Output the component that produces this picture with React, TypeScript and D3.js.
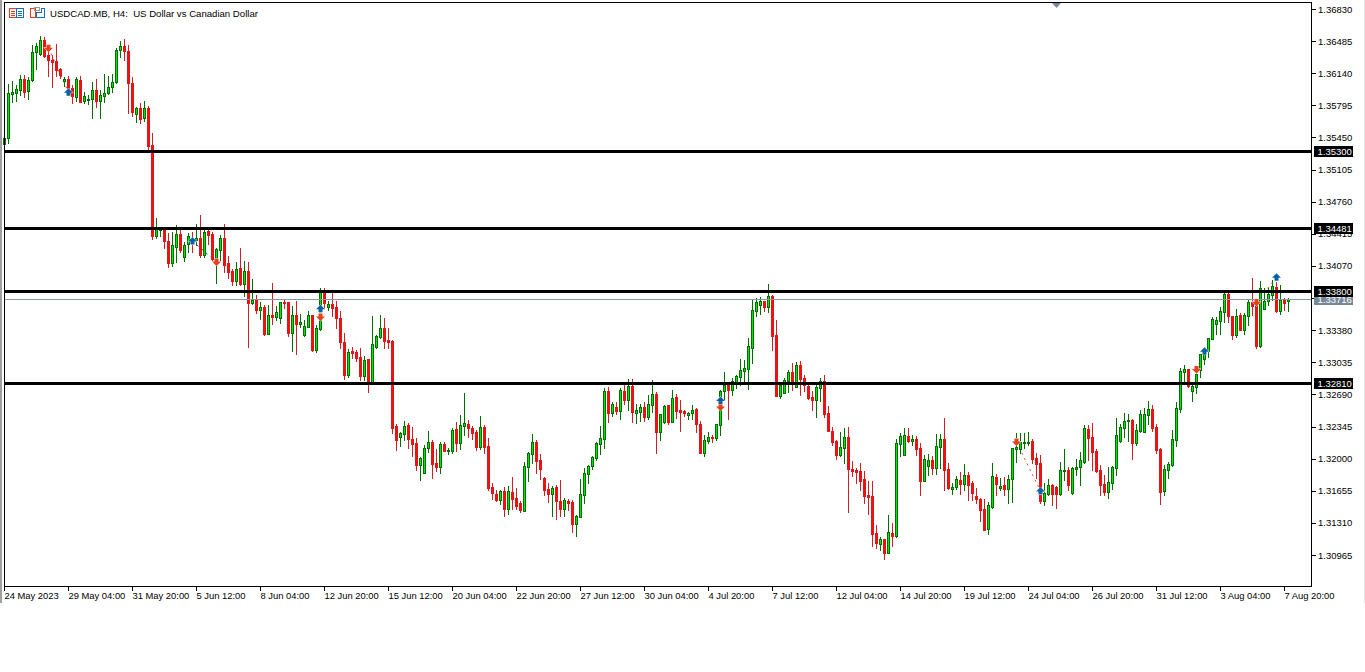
import { useEffect, useRef } from "react";
import * as d3 from "d3";

// prices are stored in points (1.36830 -> 136830)
const opens = [
  135380,135441,135921,135932,135964,136075,135953,136064,136365,136351,136494,136336,136279,136268,136182,136061,
  136075,135978,135889,136064,135839,135860,135860,135957,135839,135900,135925,135989,136043,136386,136429,136376,
  136032,135699,135763,135656,135763,135366,134392,134457,134475,134342,134106,134278,134414,134170,134303,134342,
  134349,134371,134188,134446,134414,134156,134242,134367,134099,134016,133909,134045,133877,134016,133676,133705,
  133598,133630,133343,133540,133522,133515,133680,133680,133351,133540,133447,133329,133419,133540,133168,133390,
  133794,133633,133662,133626,133508,133254,132900,133157,133147,133089,132893,133072,132810,133204,133308,133401,
  133272,133265,132352,132237,132270,132363,132212,132169,131937,131851,132109,132177,131955,131915,132159,132083,
  132083,132320,132173,132356,132373,132330,132288,132126,132341,132137,131697,131622,131557,131654,131461,131643,
  131579,131525,131443,131915,132055,132180,131987,131793,131675,131622,131697,131546,131461,131546,131536,131299,
  131375,131611,131836,131922,132008,132159,132212,132728,132492,132556,132517,132728,132631,132782,132492,132502,
  132556,132449,132577,132696,132288,132395,132577,132395,132663,132524,132513,132467,132492,132535,132373,132062,
  132191,132234,132223,132363,132728,132792,132739,132814,132878,132943,132964,133190,133587,133651,133694,133630,
  133748,133329,132674,132706,132835,132932,132774,133007,132867,132782,132663,132631,132760,132835,132492,132298,
  132191,132041,132116,132234,131890,131879,131869,131783,131611,131600,131203,131085,131138,130988,131203,131171,
  132159,132041,132245,132191,132212,132116,131761,131922,131987,131901,132130,132212,131890,131675,131697,131772,
  131729,131826,131740,131600,131568,131461,131246,131482,131804,131686,131718,131675,131783,132105,132104,132169,
  132172,132186,132004,131957,131546,131621,131717,131700,131621,131868,131879,131635,131889,131911,131965,132319,
  132233,132083,131879,131728,131639,131739,131904,132190,132330,132405,132416,132169,132297,132287,132469,132534,
  132340,132104,131653,131879,131932,132201,132534,132931,132963,132727,132774,132953,133071,133153,133289,133450,
  133479,133576,133769,133533,133328,133540,133382,133533,133683,133683,133210,133608,133694,133758,133844,133586,
  133704,133690,
];
const highs = [
  135448,136025,136057,136018,136121,136121,136096,136444,136462,136540,136526,136415,136336,136454,136193,136104,
  136111,136014,136096,136111,135942,135907,136043,136075,135960,136132,136114,136132,136408,136483,136508,136444,
  136096,135781,135817,135842,135785,135495,134582,134489,134493,134421,134439,134510,134493,134331,134421,134432,
  134521,134618,134457,134464,134439,134260,134403,134521,134178,134034,134113,134263,134124,134113,133931,133759,
  133684,133648,133648,133888,133641,133687,133716,133687,133641,133691,133555,133490,133583,133540,133436,133830,
  133830,133691,133784,133694,133587,133347,133179,133197,133168,133186,133104,133072,133533,133329,133544,133515,
  133404,133272,132370,132291,132406,132381,132341,132219,132023,132148,132298,132202,132105,132177,132184,132119,
  132330,132395,132470,132706,132416,132352,132309,132459,132363,132219,131736,131665,131665,131697,131708,131804,
  131686,131546,131965,132073,132266,132202,132051,131804,131740,131708,131718,131772,131579,131568,131557,131396,
  131783,131901,131933,132030,132180,132352,132760,132771,132610,132610,132760,132792,132857,132857,132588,132588,
  132610,132685,132846,132717,132481,132577,132577,132739,132696,132631,132524,132502,132577,132545,132406,132255,
  132288,132255,132373,132739,132932,132810,132867,132900,133072,133061,133297,133705,133727,133737,133694,133877,
  133759,133490,132792,132867,132953,133029,133039,133050,132900,132792,132728,132792,132867,132900,132567,132341,
  132202,132288,132330,132341,131976,131901,131955,131869,131761,131761,131289,131160,131138,131396,131310,132212,
  132277,132330,132330,132255,132245,132169,132041,132051,132030,132266,132266,132438,131955,131740,131815,131858,
  131944,131858,131761,131686,131579,131568,131536,131955,131836,131793,131804,131826,132116,132273,132272,132280,
  132290,132212,132058,132040,131735,131782,131728,131710,131968,132104,131911,131914,131997,132075,132362,132362,
  132380,132104,131932,131825,131911,131922,132437,132373,132487,132480,132426,132373,132523,132544,132620,132577,
  132373,132115,131932,131965,132308,132609,132974,133006,132963,132791,132988,133124,133196,133293,133518,133525,
  133633,133776,133776,133533,133608,133561,133561,133712,133941,133704,133908,133830,133833,133919,133901,133865,
  133726,133726,
];
const lows = [
  135370,135395,135828,135842,135907,135889,135860,136057,136190,136336,136311,136111,135996,136111,136086,136003,
  135968,135824,135842,135828,135817,135806,135663,135781,135663,135835,135914,135942,136032,136311,136283,135717,
  135685,135620,135602,135631,135330,134360,134374,134396,134267,134063,134074,134117,134224,134127,134224,134224,
  134296,134170,134170,134306,134127,133891,134135,134009,133938,133866,133870,133866,133752,133204,133662,133569,
  133505,133329,133336,133447,133490,133458,133615,133322,133157,133129,133411,133318,133411,133157,133147,133383,
  133615,133598,133530,133401,133193,132857,132882,133082,133050,132846,132846,132721,132803,133193,133297,133190,
  133190,132277,132094,132141,132202,132116,132030,131879,131772,131851,132076,131793,131869,131847,132080,132051,
  132058,132080,132105,132255,132234,132212,132094,132105,132062,131665,131568,131546,131514,131385,131407,131461,
  131461,131428,131443,131761,131955,131847,131783,131611,131536,131385,131353,131385,131385,131450,131214,131171,
  131375,131525,131743,131890,131987,132051,132116,132395,132459,132481,132427,132588,132524,132395,132384,132406,
  132406,132427,132502,132062,132202,132384,132373,132395,132438,132298,132459,132427,132427,132288,132062,132030,
  132169,132180,132202,132255,132631,132427,132681,132760,132792,132803,132749,133029,133533,133555,133587,133576,
  133168,132674,132653,132706,132717,132739,132771,132685,132728,132642,132524,132449,132620,132449,132298,132148,
  131998,132030,131955,131428,131815,131740,131665,131525,131407,131063,131042,131020,130924,130988,131063,131160,
  132030,132041,132180,132148,132041,131611,131761,131826,131836,131836,131901,131665,131675,131622,131675,131622,
  131665,131557,131557,131525,131332,131235,131192,131471,131611,131665,131611,131525,131536,131965,132058,132111,
  132147,131957,131789,131521,131503,131610,131503,131474,131610,131771,131664,131621,131825,131717,131954,131986,
  131879,131857,131610,131610,131578,131675,131825,132183,132233,132190,131997,132147,132287,132287,132373,132294,
  132058,131513,131610,131793,131922,132136,132502,132802,132774,132620,132709,132874,133013,133096,133286,133339,
  133339,133468,133468,133286,133307,133382,133339,133436,133543,133189,133203,133608,133651,133704,133576,133554,
  133597,133586,
];
const closes = [
  135448,135925,135935,135971,136075,135942,136064,136365,136429,136494,136329,136279,136265,136179,136118,136082,
  135978,135892,136075,135835,135892,135864,135957,135839,135903,135925,135989,136043,136386,136429,136376,136032,
  135728,135763,135653,135763,135359,134396,134485,134471,134342,134106,134292,134414,134242,134292,134389,134321,
  134367,134188,134435,134403,134142,134253,134367,134081,134006,133909,134034,133877,134016,133676,133705,133598,
  133626,133336,133540,133522,133573,133680,133669,133351,133540,133447,133465,133422,133540,133168,133401,133794,
  133669,133662,133619,133515,133258,132900,133143,133140,133086,132893,133057,132810,133229,133319,133401,133268,
  133258,132334,132205,132277,132352,132212,132162,131933,132005,132116,132177,131944,131912,132159,132083,132091,
  132309,132169,132363,132381,132330,132277,132130,132341,132123,131686,131632,131557,131654,131461,131654,131568,
  131493,131450,131922,132062,132177,131976,131890,131665,131622,131686,131546,131461,131557,131525,131299,131385,
  131622,131847,131922,132019,132169,132223,132728,132492,132588,132513,132739,132631,132782,132502,132524,132556,
  132449,132588,132696,132288,132481,132567,132395,132653,132513,132502,132492,132488,132524,132373,132062,132202,
  132234,132223,132373,132728,132792,132739,132835,132889,132953,132975,133211,133598,133684,133694,133630,133748,
  133319,132674,132792,132846,132932,132803,133007,132857,132792,132653,132631,132771,132835,132481,132298,132180,
  132041,132126,132234,131890,131869,131858,131761,131600,131589,131192,131095,131138,130988,131214,131171,132169,
  132245,132255,132191,132212,132105,131761,131998,131987,131901,132137,132212,131879,131686,131697,131783,131729,
  131826,131718,131632,131568,131450,131235,131503,131815,131729,131708,131675,131783,132112,132126,132176,132179,
  132179,131997,131947,131546,131635,131717,131621,131617,131879,131879,131717,131900,131911,131986,132330,132222,
  132072,131868,131717,131642,131750,131911,132251,132340,132405,132416,132169,132308,132480,132480,132534,132330,
  132093,131642,131889,131943,132212,132544,132942,132963,132781,132781,132910,133121,133132,133293,133497,133490,
  133583,133769,133533,133328,133533,133382,133543,133683,133640,133210,133830,133694,133769,133855,133586,133704,
  133676,133715,
];

const priceTicks = [
  136830,136485,136140,135795,135450,135105,134760,134415,134070,133725,133380,133035,132690,132345,132000,131655,131310,130965,
];
const timeLabels = [
  "24 May 2023","29 May 04:00","31 May 20:00","5 Jun 12:00","8 Jun 04:00","12 Jun 20:00","15 Jun 12:00",
  "20 Jun 04:00","22 Jun 20:00","27 Jun 12:00","30 Jun 04:00","4 Jul 20:00","7 Jul 12:00","12 Jul 04:00",
  "14 Jul 20:00","19 Jul 12:00","24 Jul 04:00","26 Jul 20:00","31 Jul 12:00","3 Aug 04:00","7 Aug 20:00",
];
const levels = [135300, 134481, 133800, 132810];
const bidPrice = 133716;

// trade arrows
const sellIndex = [11, 53, 79, 179, 253, 298, 313];
const sellPrice = [136415, 134117, 133526, 132560, 132184, 132963, 133683];
const buyIndex = [16, 47, 79, 179, 259, 300, 318];
const buyPrice = [135942, 134342, 133615, 132631, 131657, 133160, 133955];
// [from index, from price, to index, to price, colour]
const tradeLinks: [number, number, number, number, string][] = [
  [11, 136415, 16, 135942, "#e8401c"],
  [47, 134342, 53, 134117, "#0b5fa5"],
  [253, 132184, 259, 131657, "#e8401c"],
  [298, 132963, 300, 133160, "#e8401c"],
  [313, 133683, 318, 133955, "#e8401c"],
];

const W = 1365;
const H = 672;
const left = 4;
const top = 2;
const right = 1311;
const bottom = 586;
const font = "'Liberation Sans', Arial, sans-serif";
const fmt = (p: number) => (p / 100000).toFixed(5);

const App = () => {
  const ref = useRef<SVGSVGElement | null>(null);

  useEffect(() => {
    const svg = d3.select(ref.current);
    svg.selectAll("*").remove();

    const x = d3.scaleLinear().domain([0, 321]).range([4.5, 1288.5]);
    const y = d3.scaleLinear().domain([130965, 136830]).range([555.5, 9.5]);
    const py = (p: number) => Math.round(y(p) - 0.5);

    // window edges
    svg.append("rect").attr("x", 0).attr("y", 0).attr("width", 2).attr("height", 603).attr("fill", "#a0a0a0");
    svg.append("rect").attr("x", 1364).attr("y", 0).attr("width", 1).attr("height", 603).attr("fill", "#e4e4e4");

    // trade links go under the candles
    const plot = svg.append("g").attr("shape-rendering", "crispEdges");
    svg
      .insert("g", "g")
      .selectAll("line")
      .data(tradeLinks)
      .join("line")
      .attr("x1", (d) => x(d[0]))
      .attr("y1", (d) => y(d[1]))
      .attr("x2", (d) => x(d[2]))
      .attr("y2", (d) => y(d[3]))
      .attr("stroke", (d) => d[4])
      .attr("stroke-width", 1)
      .attr("stroke-dasharray", "2,4");

    opens.forEach((open, i) => {
      const close = closes[i];
      const up = close >= open;
      const cx = Math.floor(x(i));
      const bodyTop = py(Math.max(open, close));
      const bodyBottom = py(Math.min(open, close));
      const high = py(highs[i]);
      const low = py(lows[i]);

      plot
        .append("rect")
        .attr("x", cx)
        .attr("y", high)
        .attr("width", 1)
        .attr("height", Math.max(low - high + 1, 1))
        .attr("fill", up ? "#006f00" : "#cc1f26");
      plot
        .append("rect")
        .attr("x", cx - 1)
        .attr("y", bodyTop)
        .attr("width", 3)
        .attr("height", Math.max(bodyBottom - bodyTop + 1, 2))
        .attr("fill", up ? "#006f00" : "#ea1212");
      if (up && bodyBottom - bodyTop > 1) {
        plot
          .append("rect")
          .attr("x", cx)
          .attr("y", bodyTop + 1)
          .attr("width", 1)
          .attr("height", bodyBottom - bodyTop - 1)
          .attr("fill", "#00e600");
      }
    });

    // horizontal levels
    const levelG = svg.append("g").attr("shape-rendering", "crispEdges");
    levelG
      .append("line")
      .attr("x1", left)
      .attr("x2", right)
      .attr("y1", y(bidPrice))
      .attr("y2", y(bidPrice))
      .attr("stroke", "#8a96a3")
      .attr("stroke-width", 1);
    levelG
      .selectAll("rect")
      .data(levels)
      .join("rect")
      .attr("x", left)
      .attr("width", right - left)
      .attr("y", (d) => py(d) - 1)
      .attr("height", 3)
      .attr("fill", "#000");

    // arrows on top of the levels
    const arrow = (cx: number, cy: number, dir: number, color: string) => {
      const d = `M0,${-4 * dir}L4.5,${0.5 * dir}L2,${0.5 * dir}L2,${3.5 * dir}L-2,${3.5 * dir}L-2,${0.5 * dir}L-4.5,${0.5 * dir}Z`;
      svg
        .append("path")
        .attr("d", d)
        .attr("transform", `translate(${cx},${cy})`)
        .attr("fill", color)
        .attr("stroke", "#fff")
        .attr("stroke-width", 1)
        .attr("paint-order", "stroke");
    };
    sellIndex.forEach((idx, i) => arrow(x(idx), y(sellPrice[i]), -1, "#e8401c"));
    buyIndex.forEach((idx, i) => arrow(x(idx), y(buyPrice[i]), 1, "#0b5fa5"));

    // chart frame
    svg
      .append("rect")
      .attr("x", left + 0.5)
      .attr("y", top + 0.5)
      .attr("width", right - left)
      .attr("height", bottom - top)
      .attr("fill", "none")
      .attr("stroke", "#000")
      .attr("stroke-width", 1)
      .attr("shape-rendering", "crispEdges");

    // top scroll marker
    svg.append("path").attr("d", "M1052,3L1061,3L1056.5,8Z").attr("fill", "#778899");

    // price axis
    const yAxis = svg
      .append("g")
      .attr("transform", `translate(${right},0)`)
      .call(d3.axisRight(y).tickValues(priceTicks).tickFormat((d) => fmt(+d)).tickSize(5).tickPadding(2).offset(0));
    yAxis.select(".domain").remove();
    yAxis.selectAll("line").attr("stroke", "#000").attr("shape-rendering", "crispEdges");
    yAxis.selectAll("text").attr("fill", "#000").attr("font-family", font).attr("font-size", 9.5);

    // time axis
    const xAxis = svg
      .append("g")
      .attr("transform", `translate(0,${bottom})`)
      .call(
        d3
          .axisBottom(x)
          .tickValues(timeLabels.map((_, i) => i * 16))
          .tickFormat((_, i) => timeLabels[i])
          .tickSize(5)
          .tickPadding(1)
          .offset(0)
      );
    xAxis.select(".domain").remove();
    xAxis.selectAll("line").attr("stroke", "#000").attr("shape-rendering", "crispEdges");
    xAxis
      .selectAll("text")
      .attr("text-anchor", "start")
      .attr("fill", "#000")
      .attr("font-family", font)
      .attr("font-size", 9.4);

    // price labels
    const label = (p: number, bg: string, h: number) => {
      const cy = y(p);
      svg
        .append("rect")
        .attr("x", 1314)
        .attr("y", Math.round(cy - h / 2))
        .attr("width", 39)
        .attr("height", h)
        .attr("fill", bg)
        .attr("shape-rendering", "crispEdges");
      svg
        .append("text")
        .attr("x", 1317.5)
        .attr("y", cy)
        .attr("dy", "0.35em")
        .attr("fill", "#fff")
        .attr("font-family", font)
        .attr("font-size", 9.5)
        .text(fmt(p));
    };
    label(bidPrice, "#778899", 11);
    levels.forEach((p) => label(p, "#000", 11));
  }, []);

  return (
    <svg ref={ref} width={W} height={H} style={{ position: "absolute", left: 0, top: 0 }}></svg>
  );
};

const Header = () => (
  <svg width={300} height={22} style={{ position: "absolute", left: 0, top: 0 }}>
    <g shapeRendering="crispEdges" fill="none" strokeWidth={1}>
      <rect x={9.5} y={8.5} width={7} height={9} stroke="#f03a20" />
      <path d="M11 11.5H15M11 13.5H15M11 15.5H15" stroke="#f03a20" />
      <rect x={16.5} y={8.5} width={7} height={9} stroke="#0f6cc0" />
      <path d="M18 11.5H22M18 13.5H22M18 15.5H22" stroke="#0f6cc0" />
      <path d="M30.5 8.5H35.5V17.5H30.5Z" stroke="#f03a20" fill="#fff" />
      <path d="M36.5 17.5H44.5V8.5H41.5V12.5H36.5Z" stroke="#0f6cc0" />
      <rect x={34.5} y={7.5} width={5} height={3} stroke="#999" />
    </g>
    <text x={50} y={17} fontFamily={font} fontSize={9.6} fill="#000" style={{ whiteSpace: "pre" }}>
      {"USDCAD.MB, H4:  US Dollar vs Canadian Dollar"}
    </text>
  </svg>
);

const Page = () => (
  <>
    <App />
    <Header />
  </>
);

export default Page;
